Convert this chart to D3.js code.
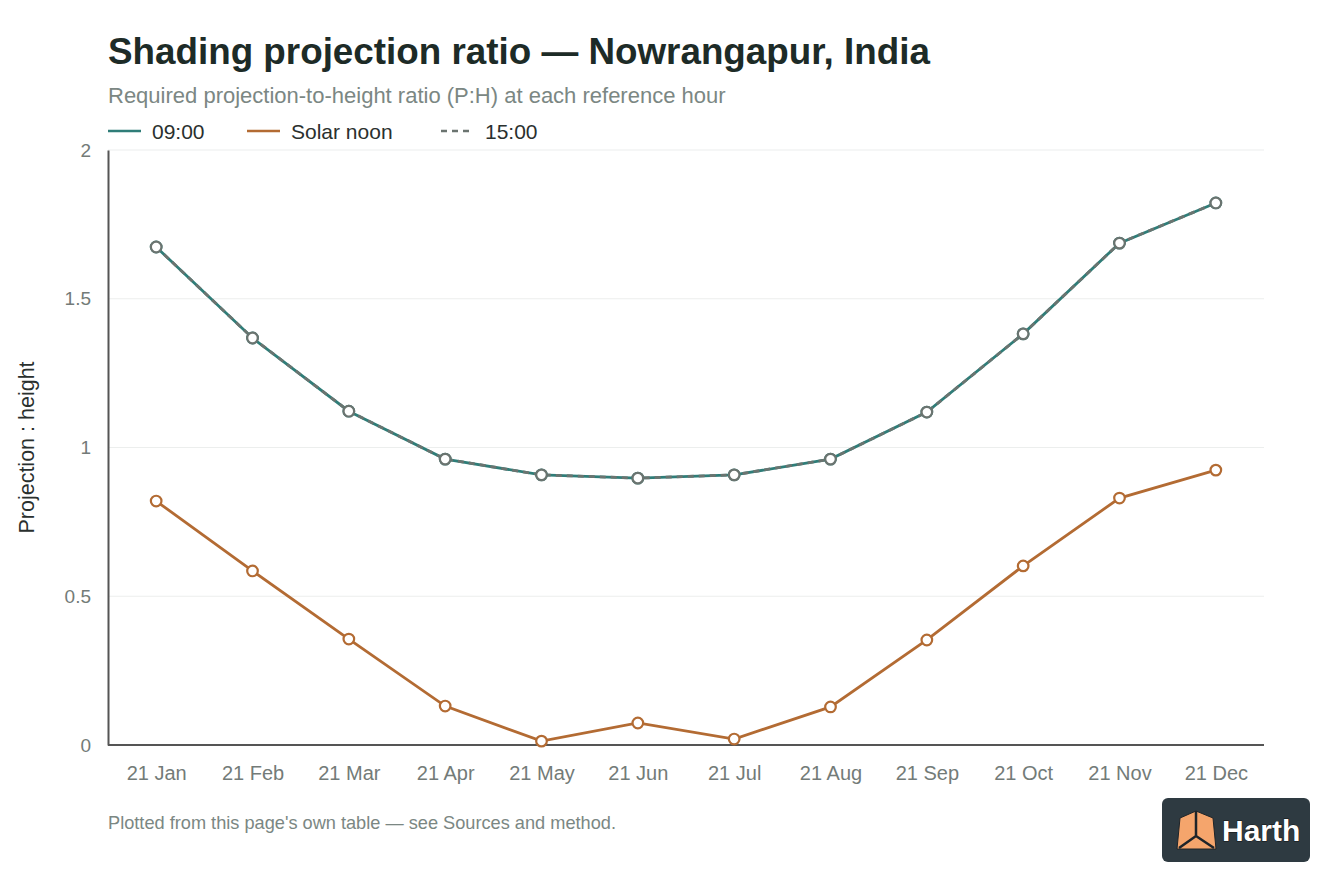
<!DOCTYPE html>
<html>
<head>
<meta charset="utf-8">
<script src="https://cdn.jsdelivr.net/npm/d3@7"></script>
<style>
  html, body { margin: 0; padding: 0; background: #fff; }
  svg { display: block; font-family: "Liberation Sans", Arial, Helvetica, sans-serif; }
</style>
</head>
<body>
<div id="chart"></div>
<script>
// months on the x axis
const months = ["21 Jan", "21 Feb", "21 Mar", "21 Apr", "21 May", "21 Jun",
                "21 Jul", "21 Aug", "21 Sep", "21 Oct", "21 Nov", "21 Dec"];

// projection : height ratio
const morning = [1.674, 1.368, 1.122, 0.961, 0.908, 0.897, 0.908, 0.961, 1.119, 1.382, 1.687, 1.822];
const noon    = [0.820, 0.585, 0.356, 0.131, 0.013, 0.074, 0.020, 0.128, 0.353, 0.602, 0.830, 0.924];
const afternoon = [1.674, 1.368, 1.122, 0.961, 0.908, 0.897, 0.908, 0.961, 1.119, 1.382, 1.687, 1.822];

const yTicks = [0, 0.5, 1, 1.5, 2];
const yTickLabels = ["0", "0.5", "1", "1.5", "2"];

const series = [
    { name: "09:00", values: morning, color: "#2f7d78", dash: null },
    { name: "Solar noon", values: noon, color: "#b36b33", dash: null },
    { name: "15:00", values: afternoon, color: "#6b7470", dash: "6,5" }
];

const width = 1344;
const height = 896;
const margin = { top: 150, right: 80, bottom: 151, left: 108 };

const svg = d3.select("#chart")
    .append("svg")
    .attr("width", width)
    .attr("height", height);

const x = d3.scalePoint()
    .domain(months)
    .range([margin.left, width - margin.right])
    .padding(0.5);

const y = d3.scaleLinear()
    .domain([0, 2])
    .range([height - margin.bottom, margin.top]);

// title + subtitle
svg.append("text")
    .attr("x", margin.left)
    .attr("y", 64)
    .attr("fill", "#1d2b27")
    .style("font-size", "36.8px")
    .style("font-weight", "bold")
    .text("Shading projection ratio \u2014 Nowrangapur, India");

svg.append("text")
    .attr("x", margin.left)
    .attr("y", 103)
    .attr("fill", "#7b8783")
    .style("font-size", "22px")
    .text("Required projection-to-height ratio (P:H) at each reference hour");

// legend
const legendX = [108, 247, 441];
const legend = svg.append("g")
    .selectAll("g")
    .data(series)
    .join("g")
    .attr("transform", (d, i) => "translate(" + legendX[i] + ",131)");
legend.append("line")
    .attr("x1", 0)
    .attr("x2", 33)
    .attr("stroke", d => d.color)
    .attr("stroke-width", 2.5)
    .attr("stroke-dasharray", d => d.dash);
legend.append("text")
    .attr("x", 44)
    .attr("dy", "0.36em")
    .attr("fill", "#2a302e")
    .style("font-size", "21px")
    .text(d => d.name);

// grid
svg.append("g")
    .selectAll("line")
    .data(yTicks.filter(t => t > 0))
    .join("line")
    .attr("x1", margin.left)
    .attr("x2", width - margin.right)
    .attr("y1", d => y(d))
    .attr("y2", d => y(d))
    .attr("stroke", "#eceeed")
    .attr("stroke-width", 1.2);

// axes
const yAxis = svg.append("g")
    .attr("transform", "translate(" + margin.left + ",0)")
    .call(d3.axisLeft(y).tickValues(yTicks).tickFormat((d, i) => yTickLabels[i]).tickSize(0).tickPadding(17));
yAxis.select(".domain").attr("stroke", "#555").attr("stroke-width", 2);
yAxis.selectAll("text").attr("fill", "#737b78").style("font-size", "19px").style("font-family", null);

const xAxis = svg.append("g")
    .attr("transform", "translate(0," + y(0) + ")")
    .call(d3.axisBottom(x).tickSize(0).tickPadding(21));
xAxis.select(".domain").attr("d", "M" + margin.left + ",0H" + (width - margin.right)).attr("stroke", "#555").attr("stroke-width", 2);
xAxis.selectAll("text").attr("fill", "#737b78").style("font-size", "20px").style("font-family", null);

svg.append("text")
    .attr("transform", "translate(34," + ((y(0) + y(2)) / 2) + ") rotate(-90)")
    .attr("text-anchor", "middle")
    .attr("fill", "#2a302e")
    .style("font-size", "21.5px")
    .text("Projection : height");

// lines
const line = d3.line()
    .x((d, i) => x(months[i]))
    .y(d => y(d));

svg.append("g")
    .selectAll("path")
    .data(series)
    .join("path")
    .attr("fill", "none")
    .attr("stroke", d => d.color)
    .attr("stroke-width", 2.8)
    .attr("stroke-dasharray", d => d.dash)
    .attr("d", d => line(d.values));

// markers
series.forEach(s => {
    svg.append("g")
        .selectAll("circle")
        .data(s.values)
        .join("circle")
        .attr("cx", (d, i) => x(months[i]))
        .attr("cy", d => y(d))
        .attr("r", 5.3)
        .attr("fill", "#fff")
        .attr("stroke", s.color)
        .attr("stroke-width", 2.2);
});

// footnote
svg.append("text")
    .attr("x", margin.left)
    .attr("y", 829)
    .attr("fill", "#7b8783")
    .style("font-size", "18.2px")
    .text("Plotted from this page's own table \u2014 see Sources and method.");

// badge
const badge = svg.append("g").attr("transform", "translate(1162,798)");
badge.append("rect")
    .attr("width", 148)
    .attr("height", 64)
    .attr("rx", 6)
    .attr("fill", "#2e3a41");
badge.append("path")
    .attr("d", "M18,20 L34,13 L51,20 L54,51 L15,51 Z")
    .attr("fill", "#f5a56c")
    .attr("stroke", "#1e2429")
    .attr("stroke-width", 1);
badge.append("path")
    .attr("d", "M34,13 L34,38 M34,38 L17,50 M34,38 L52,50")
    .attr("fill", "none")
    .attr("stroke", "#1e2429")
    .attr("stroke-width", 2.5);
badge.append("text")
    .attr("x", 60)
    .attr("y", 43)
    .attr("fill", "#fff")
    .attr("stroke", "#111")
    .attr("stroke-width", 1)
    .attr("paint-order", "stroke")
    .style("font-size", "30px")
    .style("font-weight", "bold")
    .text("Harth");
</script>
</body>
</html>
